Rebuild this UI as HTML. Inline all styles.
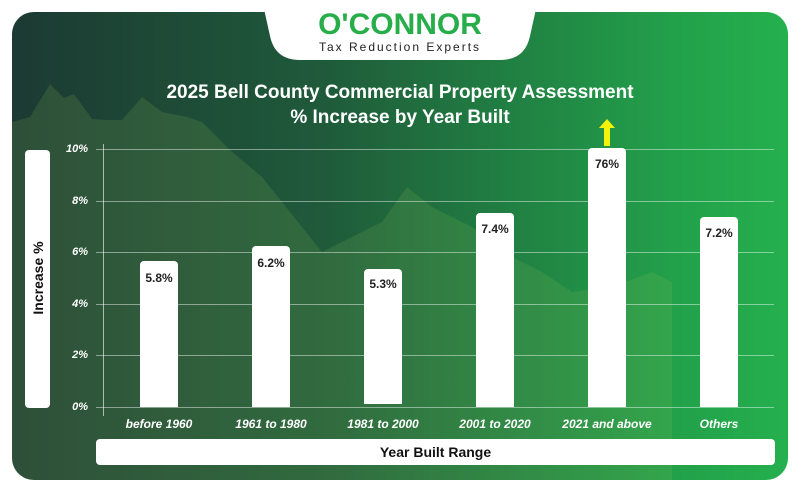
<!DOCTYPE html>
<html><head><style>
body{margin:0;width:800px;height:492px;background:#fff;position:relative;font-family:"Liberation Sans",sans-serif;overflow:hidden}
.card{position:absolute;left:12px;top:12px;width:776px;height:468px;border-radius:22px;background:linear-gradient(90deg,#1c3a33 0%,#1f5a3a 40%,#22a04a 85%,#25b04e 100%);overflow:hidden}
.abs{position:absolute}
.bar{position:absolute;background:#fff;border-radius:4px 4px 0 0;width:38px}
.bl{position:absolute;width:38px;text-align:center;font-weight:bold;font-size:12px;color:#222}
.yt{position:absolute;left:60px;width:28px;text-align:right;font-size:11px;font-style:italic;font-weight:bold;color:#fff}
.xt{position:absolute;top:417px;width:120px;text-align:center;font-size:12px;font-style:italic;font-weight:bold;color:#fff}
.gl{position:absolute;left:96px;width:678px;height:1px;background:rgba(255,255,255,0.45)}
</style></head><body>
<div class="card">
<svg class="abs" style="left:0;top:0" width="776" height="468"><polygon fill="rgba(140,190,90,0.16)" points="0,110 18,105 38,72 52,86 62,82 80,107 96,108 110,108 130,85 150,100 175,105 190,110 205,125 220,140 250,165 270,190 310,240 330,230 350,220 370,210 395,175 420,195 460,215 500,245 530,260 560,280 600,275 640,260 660,270 660,468 0,468"/></svg>
</div>
<svg class="abs" style="left:262px;top:0" width="276" height="62"><path d="M0,0 L276,0 L268,36 Q263,60 238,60 L38,60 Q13,60 8,36 Z" fill="#fff"/></svg>
<div class="abs" style="left:268px;top:8px;width:264px;text-align:center;font-size:30px;font-weight:bold;color:#27ae4a">O'CONNOR</div>
<div class="abs" style="left:268px;top:40px;width:264px;text-align:center;font-size:12px;color:#222;letter-spacing:2px">Tax Reduction Experts</div>
<div class="abs" style="left:100px;top:80px;width:600px;text-align:center;font-size:19px;font-weight:bold;color:#fff;line-height:25px">2025 Bell County Commercial Property Assessment<br>% Increase by Year Built</div>
<div class="abs" style="left:25px;top:150px;width:25px;height:258px;background:#fff;border-radius:4px"></div>
<div class="abs" style="left:-42px;top:270px;width:160px;text-align:center;transform:rotate(-90deg);font-size:14px;font-weight:bold;color:#111">Increase %</div>
<div class="abs" style="left:103px;top:144px;width:1px;height:272px;background:rgba(255,255,255,0.6)"></div>
<div class="gl" style="top:149px"></div><div class="gl" style="top:201px"></div><div class="gl" style="top:252px"></div><div class="gl" style="top:304px"></div><div class="gl" style="top:355px"></div><div class="gl" style="top:407px"></div>
<div class="yt" style="top:143px">10%</div><div class="yt" style="top:195px">8%</div><div class="yt" style="top:246px">6%</div><div class="yt" style="top:298px">4%</div><div class="yt" style="top:349px">2%</div><div class="yt" style="top:401px">0%</div>
<div class="bar" style="left:140px;top:261px;height:146px"></div><div class="bl" style="left:140px;top:271px">5.8%</div>
<div class="bar" style="left:252px;top:246px;height:161px"></div><div class="bl" style="left:252px;top:256px">6.2%</div>
<div class="bar" style="left:364px;top:269px;height:135px"></div><div class="bl" style="left:364px;top:277px">5.3%</div>
<div class="bar" style="left:476px;top:213px;height:194px"></div><div class="bl" style="left:476px;top:222px">7.4%</div>
<div class="bar" style="left:588px;top:148px;height:259px"></div><div class="bl" style="left:588px;top:157px">76%</div>
<div class="bar" style="left:700px;top:217px;height:190px"></div><div class="bl" style="left:700px;top:226px">7.2%</div>
<svg class="abs" style="left:598px;top:119px" width="18" height="28"><polygon fill="#f2f20a" points="9,0 17,9 12,9 12,27 6,27 6,9 1,9"/></svg>
<div class="xt" style="left:99px">before 1960</div><div class="xt" style="left:211px">1961 to 1980</div><div class="xt" style="left:323px">1981 to 2000</div><div class="xt" style="left:435px">2001 to 2020</div><div class="xt" style="left:547px">2021 and above</div><div class="xt" style="left:659px">Others</div>
<div class="abs" style="left:96px;top:439px;width:679px;height:26px;background:#fff;border-radius:4px;text-align:center;line-height:26px;font-size:14px;font-weight:bold;color:#111">Year Built Range</div>
</body></html>
